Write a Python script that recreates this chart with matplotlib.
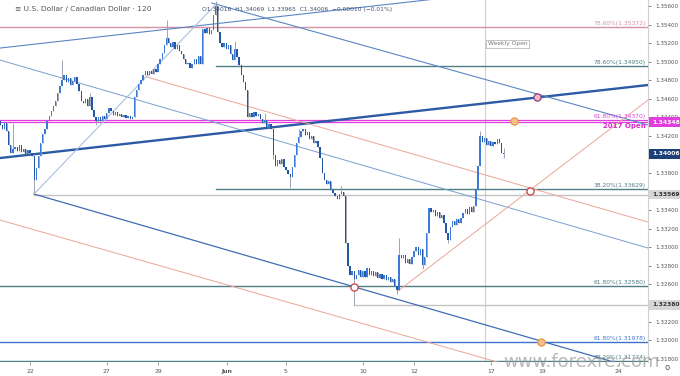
import matplotlib
matplotlib.use("Agg")
import matplotlib.pyplot as plt
import matplotlib.transforms as mtransforms
import numpy as np

# 2h closes, bar 0 = May 22 00:00, one trading day = 12 bars
first_bar = -14
first_open = 1.3436
closes = [
    1.3432, 1.3428, 1.3434, 1.3425, 1.3410, 1.3402, 1.3406, 1.3408, 1.3404, 1.3410,
    1.3403, 1.3406, 1.3401, 1.3405, 1.3402, 1.3398, 1.3372, 1.3385, 1.3398, 1.3412,
    1.3422, 1.3428, 1.3436, 1.3442, 1.3447, 1.3452, 1.3458, 1.3466, 1.3474, 1.3480,
    1.3486, 1.3478, 1.3482, 1.3475, 1.3479, 1.3484, 1.3476, 1.3468, 1.3458, 1.3455,
    1.3460, 1.3452, 1.3462, 1.3448, 1.3440, 1.3436, 1.3440, 1.3436, 1.3442, 1.3438,
    1.3445, 1.3450, 1.3447, 1.3443, 1.3446, 1.3441, 1.3444, 1.3440, 1.3443, 1.3439,
    1.3441, 1.3438, 1.3440, 1.3462, 1.3470, 1.3476, 1.3480, 1.3486, 1.3490, 1.3486,
    1.3490, 1.3487, 1.3492, 1.3489, 1.3498, 1.3503, 1.3509, 1.3518, 1.3526, 1.3520,
    1.3516, 1.3521, 1.3514, 1.3518, 1.3512, 1.3508, 1.3503, 1.3497, 1.3499, 1.3493,
    1.3498, 1.3503, 1.3497, 1.3506, 1.3498, 1.3535, 1.3531, 1.3536, 1.3530, 1.3534,
    1.3550, 1.3560, 1.3532, 1.3520, 1.3516, 1.3520, 1.3514, 1.3518, 1.3508, 1.3502,
    1.3514, 1.3505, 1.3496, 1.3486, 1.3478, 1.3470, 1.3440, 1.3445, 1.3440, 1.3446,
    1.3441, 1.3444, 1.3438, 1.3434, 1.3437, 1.3430, 1.3433, 1.3427, 1.3400, 1.3388,
    1.3394, 1.3390, 1.3395, 1.3387, 1.3383, 1.3379, 1.3376, 1.3387, 1.3400, 1.3412,
    1.3419, 1.3425, 1.3427, 1.3421, 1.3424, 1.3417, 1.3420, 1.3412, 1.3415, 1.3408,
    1.3396, 1.3380, 1.3373, 1.3368, 1.3371, 1.3362, 1.3358, 1.3355, 1.3352, 1.3357,
    1.3360, 1.3355, 1.3305, 1.3280, 1.3270, 1.3275, 1.3266, 1.3270, 1.3276, 1.3268,
    1.3274, 1.3268, 1.3278, 1.3270, 1.3275, 1.3269, 1.3273, 1.3267, 1.3271, 1.3266,
    1.3270, 1.3265, 1.3268, 1.3263, 1.3266, 1.3258, 1.3254, 1.3292, 1.3288, 1.3292,
    1.3283, 1.3287, 1.3282, 1.3290, 1.3296, 1.3300, 1.3292, 1.3298, 1.3281, 1.3290,
    1.3315, 1.3342, 1.3338, 1.3340, 1.3334, 1.3338, 1.3332, 1.3335, 1.3326, 1.3315,
    1.3308, 1.3322, 1.3328, 1.3324, 1.3330, 1.3326, 1.3332, 1.3337, 1.3341, 1.3336,
    1.3343, 1.3338, 1.3345, 1.3362, 1.3388, 1.3420, 1.3413, 1.3418, 1.3410, 1.3415,
    1.3409, 1.3414, 1.3411, 1.3417, 1.3412, 1.34016, 1.34006,
]
# notable wick extremes (bar -> price)
wick_highs = {-8: 1.3434, 15: 1.3502, 28: 1.3466, 64: 1.3545, 87: 1.3565, 96: 1.3522,
              110: 1.3445, 126: 1.3428, 146: 1.3366, 173: 1.3310, 211: 1.3425, 222: 1.34069}
wick_lows = {2: 1.33569, 31: 1.3432, 114: 1.3395, 122: 1.3364, 152: 1.3238, 172: 1.3250,
             184: 1.3277, 196: 1.3305, 222: 1.33965}

tick_bars = [0, 36, 60, 92.5, 120, 156, 180, 216, 240, 276]
tick_labels = ["22", "27", "29", "Jun", "5", "10", "12", "17", "19", "24"]

# fib / level lines: (price, start bar, colour, label)
levels = [
    (1.35372, None, "#d393a6", "78.60%(1.35372)"),
    (1.34950, 87, "#4f7e86", "78.60%(1.34950)"),
    (1.34370, None, "#e03ede", "61.80%(1.34370)"),
    (1.33629, 87, "#4f7e86", "38.20%(1.33629)"),
    (1.32580, None, "#4f7e86", "61.80%(1.32580)"),
    (1.31978, None, "#3f72d0", "61.80%(1.31978)"),
    (1.31774, None, "#4f7e86", "38.20%(1.31774)"),
]
open_2017 = 1.34348
grey_levels = [(1.33569, 2), (1.32380, 152)]
weekly_open_bar = 213.3
last_price = 1.34006

# trendlines (bar, price) -> (bar, price)
blue_lines = [((-14.1, 1.33962), (289.7, 1.34749), "#2c5aa3", 1.7),
              ((-14.1, 1.35147), (289.7, 1.35934), "#5a86c4", 0.8),
              ((85.3, 1.35632), (289.7, 1.34318), "#5a86c4", 0.8),
              ((-14.1, 1.35018), (289.7, 1.32992), "#7a9fd0", 0.7),
              ((1.9, 1.33574), (289.7, 1.31656), "#3f6db3", 0.9),
              ((1.9, 1.33574), (87.7, 1.35632), "#a9c0e0", 0.8)]
salmon_lines = [((54.8, 1.34835), (289.7, 1.33272)),
                ((-14.1, 1.33294), (289.7, 1.31300)),
                ((172.5, 1.32529), (289.7, 1.34587))]
circles = [(237.7, 1.34619, "#f2b8c8", "#8a3f7e"),
           (226.9, 1.34359, "#f6c08a", "#e39a4a"),
           (234.4, 1.33606, "white", "#d03a3a"),
           (151.9, 1.32572, "white", "#d03a3a"),
           (239.5, 1.31979, "#f6c08a", "#e39a4a")]

fig = plt.figure(figsize=(6.8, 3.76), dpi=100)
ax = fig.add_axes([0, 14 / 376, 648 / 680, 362 / 376])
ax.set_xlim(-14.06, 289.7)
ax.set_ylim(1.31764, 1.35665)

# levels
for price, start, col, lab in levels:
    xs = start if start is not None else -14.06
    lw = 0.9 if col == "#e03ede" else 1.0
    ax.plot([xs, 289.7], [price, price], color=col, lw=lw, zorder=2)
    ax.text(288.5, price + 0.00012, lab, color=col, fontsize=4.3, ha="right", va="bottom", zorder=6)
ax.axhline(open_2017, color="#e03ede", lw=0.9, zorder=2)
ax.text(288.5, open_2017 - 0.00012, "2017 Open", color="#d62ad0", fontsize=5, fontweight="bold",
        ha="right", va="top", zorder=6)
for price, start in grey_levels:
    ax.plot([start, 289.7], [price, price], color="#c4c4c4", lw=1.0, zorder=2)

ax.axvline(weekly_open_bar, color="#cfcfcf", lw=0.8, zorder=1)
ax.text(weekly_open_bar + 1.2, 1.35195, "Weekly Open", color="#777777", fontsize=4.3, ha="left", va="center",
        bbox=dict(boxstyle="square,pad=0.25", fc="white", ec="#aaaaaa", lw=0.5), zorder=6)

for (x0, y0), (x1, y1), col, lw in blue_lines:
    ax.plot([x0, x1], [y0, y1], color=col, lw=lw, zorder=3)
for (x0, y0), (x1, y1) in salmon_lines:
    ax.plot([x0, x1], [y0, y1], color="#eba596", lw=0.7, zorder=3)

# candles
c = np.array(closes)
o = np.concatenate([[first_open], c[:-1]])
bars = np.arange(first_bar, first_bar + len(c))
hi = np.maximum(o, c)
lo = np.minimum(o, c)
for b, v in wick_highs.items():
    hi[b - first_bar] = v
for b, v in wick_lows.items():
    lo[b - first_bar] = v
up = c >= o
ax.vlines(bars, lo, hi, color="#8d97a8", lw=0.6, zorder=4)
ax.bar(bars[up], (c - o)[up], bottom=o[up], width=0.62, color="#3d7ad6", lw=0, zorder=5)
ax.bar(bars[~up], (o - c)[~up], bottom=c[~up], width=0.62, color="#2456a4", lw=0, zorder=5)

for x, y, fc, ec in circles:
    ax.plot(x, y, "o", ms=5.2, mfc=fc, mec=ec, mew=0.9, zorder=7)

# axes styling
for s in ["top", "left", "bottom"]:
    ax.spines[s].set_visible(False)
ax.spines["right"].set_color("#d0d0d0")
ax.spines["right"].set_linewidth(0.8)
ax.yaxis.tick_right()
ax.set_yticks(np.arange(1.318, 1.3561, 0.002))
ax.yaxis.set_major_formatter(matplotlib.ticker.FormatStrFormatter("%.5f"))
ax.tick_params(axis="y", labelsize=4.1, colors="#555555", length=2, width=0.5, pad=3)
ax.set_xticks(tick_bars)
ax.set_xticklabels(tick_labels)
ax.tick_params(axis="x", labelsize=4.4, colors="#555555", length=2, width=0.4, pad=3)
for t in ax.get_xticklabels():
    if t.get_text() == "Jun":
        t.set_fontweight("bold")

tr = mtransforms.blended_transform_factory(ax.transAxes, ax.transData)
boxes = [(open_2017, "#e03ede", "white"), (last_price, "#1d4079", "white"),
         (1.33569, "#d6d6d6", "#333333"), (1.32380, "#d6d6d6", "#333333")]
for price, bg, fg in boxes:
    ax.text(1.006, price, "%.5f" % price, transform=tr, fontsize=4.3, color=fg, ha="left", va="center",
            fontweight="bold", bbox=dict(boxstyle="square,pad=0.4", fc=bg, ec="none"), zorder=8, clip_on=False)

fig.text(15 / 680, 1 - 9 / 376, "≡ U.S. Dollar / Canadian Dollar · 120", fontsize=5.4, color="#555555",
         ha="left", va="center")
fig.text(202 / 680, 1 - 9 / 376, "O1.34016  H1.34069  L1.33965  C1.34006  \u22120.00010 (\u22120.01%)",
         fontsize=4.3, color="#3d4f73", ha="left", va="center")
fig.text(660 / 680, 1 - 362 / 376, "www.forexre.com", fontsize=13, color="#9a9a9a", alpha=0.7,
         ha="right", va="center")
fig.text(667 / 680, 1 - 368 / 376, "o", fontsize=6, color="#555555", ha="center", va="center")

fig.savefig("out.png", dpi=100)
